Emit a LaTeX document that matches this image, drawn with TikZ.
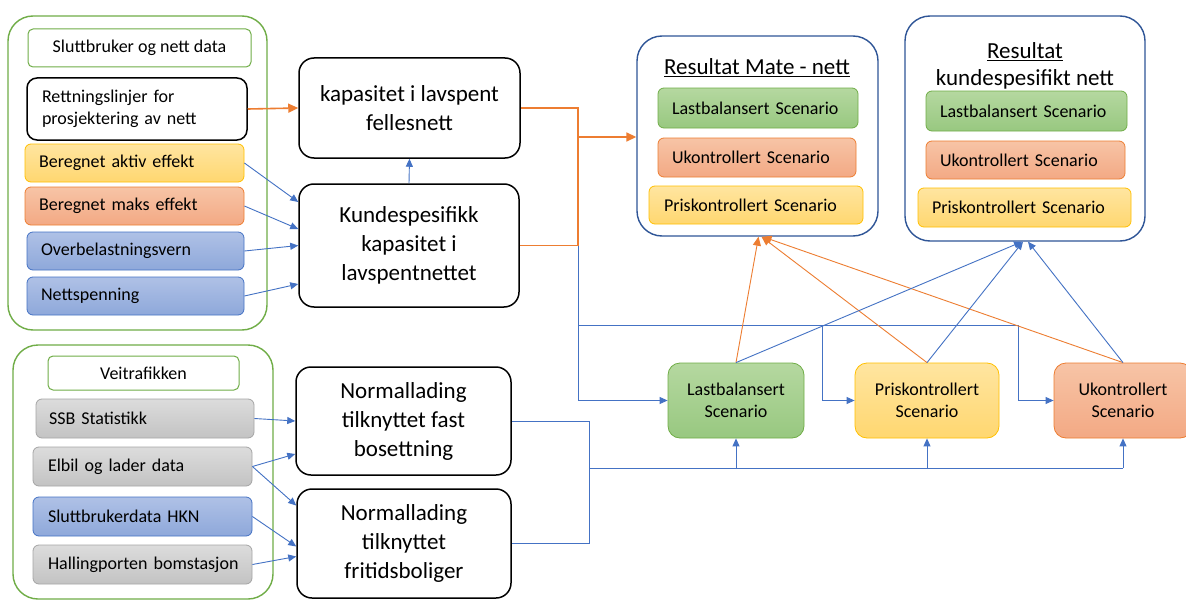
\documentclass[tikz,border=0pt]{standalone}
\usepackage{fontspec}
\setmainfont{Carlito}
\usetikzlibrary{arrows.meta}
\definecolor{grnB}{HTML}{70AD47}
\definecolor{grnT}{HTML}{B5D8A0}
\definecolor{grnD}{HTML}{98C880}
\definecolor{yelB}{HTML}{FFC000}
\definecolor{yelT}{HTML}{FFE5A0}
\definecolor{yelD}{HTML}{FFD770}
\definecolor{oraB}{HTML}{ED7D31}
\definecolor{oraT}{HTML}{F7C4A6}
\definecolor{oraD}{HTML}{F3A984}
\definecolor{bluB}{HTML}{4472C4}
\definecolor{bluT}{HTML}{AFC1E6}
\definecolor{bluD}{HTML}{8EA8DA}
\definecolor{gryB}{HTML}{A5A5A5}
\definecolor{gryT}{HTML}{DCDCDC}
\definecolor{gryD}{HTML}{C3C3C3}
\definecolor{resB}{HTML}{2F5597}
\definecolor{lineO}{HTML}{ED7D31}
\definecolor{lineB}{HTML}{4472C4}
\begin{document}
\begin{tikzpicture}[x=1pt,y=-1pt,
  grp/.style={draw=grnB, line width=1.4pt, rounded corners=25pt, inner sep=0pt},
  res/.style={draw=resB, line width=1.4pt, rounded corners=25pt, inner sep=0pt},
  hdr/.style={draw=grnB, line width=1pt, rounded corners=5pt, inner sep=0pt, font=\fontsize{18}{22}\selectfont},
  item/.style={rounded corners=6pt, line width=0.8pt, align=left, inner xsep=14pt, inner ysep=0pt, font=\fontsize{18}{22}\selectfont},
  big/.style={draw=black, line width=1.5pt, rounded corners=15pt, align=center, inner sep=0pt, font=\fontsize{23}{29}\selectfont},
  scen/.style={rounded corners=12pt, line width=0.8pt, align=center, inner sep=0pt, font=\fontsize{18}{22}\selectfont},
  grn/.style={draw=grnB, top color=grnT, bottom color=grnD},
  yel/.style={draw=yelB, top color=yelT, bottom color=yelD},
  ora/.style={draw=oraB, top color=oraT, bottom color=oraD},
  blu/.style={draw=bluB, top color=bluT, bottom color=bluD},
  gry/.style={draw=gryB, top color=gryT, bottom color=gryD},
  ttl/.style={align=center, inner sep=0pt, font=\fontsize{23}{27}\selectfont},
  oline/.style={draw=lineO, line width=1.8pt},
  oarr/.style={draw=lineO, line width=1.6pt, -{Triangle[length=10pt,width=9pt]}},
  othin/.style={draw=lineO, line width=0.9pt, -{Triangle[length=9pt,width=8pt]}},
  bline/.style={draw=lineB, line width=0.9pt},
  barr/.style={draw=lineB, line width=0.9pt, -{Triangle[length=8pt,width=7pt]}}
]
\useasboundingbox (0,0) rectangle (1186,602);
\fill[white] (0,0) rectangle (1186,602);

% group 1
\node[grp, minimum width=259pt, minimum height=314pt] (g1) at (137.5,173) {};
\node[hdr, minimum width=223pt, minimum height=38pt] (t1) at (139.5,48) {Sluttbruker og nett data};
\node[item, draw=black, line width=1.5pt, rounded corners=10pt, minimum width=220pt, minimum height=62pt, text width=190pt, inner xsep=15pt] (rett) at (137,109) {Rettningslinjer for\\prosjektering av nett};
\node[item, yel, minimum width=219pt, minimum height=38pt, text width=191pt] (aktiv) at (134.5,163) {\mbox{Beregnet aktiv effekt}};
\node[item, ora, minimum width=219pt, minimum height=38pt, text width=191pt] (maks) at (134.5,206) {\mbox{Beregnet maks effekt}};
\node[item, blu, minimum width=217pt, minimum height=38pt, text width=189pt] (overb) at (135.5,251) {\mbox{Overbelastningsvern}};
\node[item, blu, minimum width=217pt, minimum height=38pt, text width=189pt] (nettsp) at (135.5,296) {\mbox{Nettspenning}};

% middle top
\node[big, minimum width=221pt, minimum height=100pt] (felles) at (409.5,108) {kapasitet i lavspent\\fellesnett};
\node[big, minimum width=220pt, minimum height=123pt] (kund) at (409,245.5) {Kundespesifikk\\kapasitet i\\lavspentnettet};

% result Mate
\node[res, minimum width=241pt, minimum height=200pt] (mate) at (757.5,136) {};
\node[ttl] (mateT) at (757,68) {\underline{Resultat Mate - nett}};
\node[item, grn, minimum width=200pt, minimum height=40pt, text width=172pt] (mL) at (758,108) {\mbox{Lastbalansert Scenario}};
\node[item, ora, minimum width=198pt, minimum height=39pt, text width=170pt] (mU) at (757,157.5) {\mbox{Ukontrollert Scenario}};
\node[item, yel, minimum width=214pt, minimum height=38pt, text width=184pt, inner xsep=15pt] (mP) at (756,205) {\mbox{Priskontrollert Scenario}};

% result kundespesifikt
\node[res, minimum width=240pt, minimum height=225pt] (kres) at (1025,128.5) {};
\node[ttl] (kresT) at (1025,67) {\underline{Resultat}\\\underline{kundespesifikt nett}};
\node[item, grn, minimum width=201pt, minimum height=40pt, text width=173pt] (kL) at (1026.5,111) {\mbox{Lastbalansert Scenario}};
\node[item, ora, minimum width=199pt, minimum height=38pt, text width=171pt] (kU) at (1025.5,160) {\mbox{Ukontrollert Scenario}};
\node[item, yel, minimum width=213pt, minimum height=39pt, text width=185pt] (kP) at (1024.5,207.5) {\mbox{Priskontrollert Scenario}};

% scenario row
\node[scen, grn, minimum width=136pt, minimum height=75pt] (sL) at (736,400.5) {Lastbalansert\\Scenario};
\node[scen, yel, minimum width=144pt, minimum height=75pt] (sP) at (927,400.5) {Priskontrollert\\Scenario};
\node[scen, ora, minimum width=138pt, minimum height=75pt] (sU) at (1123,400.5) {Ukontrollert\\Scenario};

% group 2
\node[grp, minimum width=260pt, minimum height=254pt] (g2) at (143,472) {};
\node[hdr, minimum width=191pt, minimum height=34pt] (t2) at (143.5,373) {Veitrafikken};
\node[item, gry, minimum width=218pt, minimum height=39pt, text width=192pt, inner xsep=13pt] (ssb) at (145,418.5) {\mbox{SSB Statistikk}};
\node[item, gry, minimum width=219pt, minimum height=39pt, text width=189pt, inner xsep=15pt] (elbil) at (142.5,466.5) {\mbox{Elbil og lader data}};
\node[item, blu, minimum width=219pt, minimum height=39pt, text width=189pt, inner xsep=15pt] (hkn) at (142.5,516.5) {\mbox{Sluttbrukerdata HKN}};
\node[item, gry, minimum width=219pt, minimum height=39pt, text width=189pt, inner xsep=15pt] (hall) at (142.5,564.5) {\mbox{Hallingporten bomstasjon}};

% bottom middle
\node[big, minimum width=215pt, minimum height=108pt] (fast) at (403.5,421) {Normallading\\tilknyttet fast\\bosettning};
\node[big, minimum width=214pt, minimum height=109pt] (frit) at (404,543.5) {Normallading\\tilknyttet\\fritidsboliger};

% junction coordinates
\coordinate (jo) at (578,137);
\coordinate (jk) at (578,245.5);
\coordinate (jb) at (578,325);
\coordinate (dP) at (822,325);
\coordinate (dU) at (1018,325);
\coordinate (jf) at (589,468);
\coordinate (jr) at (jf |- frit.east);

% blue distribution to scenarios
\draw[barr] (jk) |- (sL.west);
\draw[bline] (jb) -- (dU);
\draw[barr] (dP) |- (sP.west);
\draw[barr] (dU) |- (sU.west);

% orange connectors
\draw[oarr] (rett.east) -- (felles.west);
\draw[oline] (felles.east) -| (jk);
\draw[oline] (kund.east) -- (jk);
\draw[oarr] (jo) -- (jo -| mate.west);

% blue from left group 1
\draw[barr] (aktiv.east) -- ([yshift=43.5pt]kund.west);
\draw[barr] (maks.east) -- ([yshift=16.5pt]kund.west);
\draw[barr] (overb.east) -- (kund.west);
\draw[barr] (nettsp.east) -- ([yshift=-38.5pt]kund.west);
\draw[barr] (kund.north) -- (felles.south);

% scenario to results
\draw[othin] (sL.north) -- ([xshift=1pt]mate.south);
\draw[othin] (sP.north) -- ([xshift=4pt]mate.south);
\draw[othin] (sU.north) -- ([xshift=5pt]mate.south);
\draw[barr] (sL.north) -- ([xshift=-3pt]kres.south);
\draw[barr] (sP.north) -- ([xshift=-2pt]kres.south);
\draw[barr] (sU.north) -- ([xshift=3pt]kres.south);

% bottom left arrows
\draw[barr] (ssb.east) -- (fast.west);
\draw[barr] (elbil.east) -- ([yshift=-33pt]fast.west);
\draw[barr] (elbil.east) -- ([yshift=38pt]frit.west);
\draw[barr] (hkn.east) -- ([yshift=-3pt]frit.west);
\draw[barr] (hall.east) -- ([yshift=-13pt]frit.west);

% bottom collection
\draw[bline] (fast.east) -| (jr) -- (frit.east);
\draw[bline] (jf) -- (jf -| sU.south);
\draw[barr] (jf -| sL.south) -- (sL.south);
\draw[barr] (jf -| sP.south) -- (sP.south);
\draw[barr] (jf -| sU.south) -- (sU.south);
\end{tikzpicture}
\end{document}
